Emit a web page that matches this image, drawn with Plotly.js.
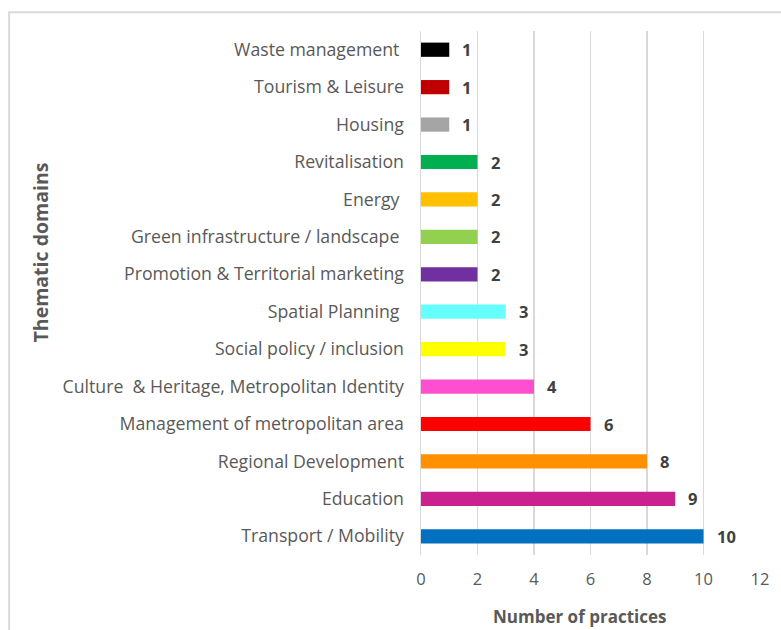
<!DOCTYPE html>
<html><head><meta charset="utf-8">
<script src="https://cdn.plot.ly/plotly-3.0.1.min.js"></script>
<style>body{margin:0;background:#fff}#chart{width:781px;height:630px}</style>
</head><body><div id="chart"></div>
<script>
const categories = ["Waste management ", "Tourism & Leisure", "Housing", "Revitalisation", "Energy ", "Green infrastructure / landscape ", "Promotion & Territorial marketing", "Spatial Planning ", "Social policy / inclusion", "Culture  & Heritage, Metropolitan Identity", "Management of metropolitan area", "Regional Development", "Education", "Transport / Mobility"];
const values = [1, 1, 1, 2, 2, 2, 2, 3, 3, 4, 6, 8, 9, 10];
const barColors = ["#000000", "#c00000", "#a5a5a5", "#00b050", "#ffc000", "#92d050", "#7030a0", "#66ffff", "#ffff00", "#ff4fd1", "#ff0000", "#ff9100", "#c9218e", "#0070c0"];
const xTicks = [0, 2, 4, 6, 8, 10, 12];

const FONT = "Open Sans, Noto Sans, sans-serif";
const FS = 16.5;
const trace = {
  type: "bar", orientation: "h",
  x: values, y: categories,
  marker: {color: barColors, line: {width: 0}},
  width: 0.38,
  hoverinfo: "none"
};
const labelAnn = values.map((v, i) => ({
  x: v, y: categories[i], xref: "x", yref: "y",
  text: "<b>" + v + "</b>", showarrow: false,
  xanchor: "left", xshift: 11,
  font: {family: FONT, size: FS, color: "#404040"}
}));
const layout = {
  width: 781, height: 630,
  margin: {l: 421, r: 21, t: 31, b: 75},
  paper_bgcolor: "#ffffff", plot_bgcolor: "#ffffff",
  showlegend: false,
  font: {family: FONT, size: FS, color: "#595959"},
  xaxis: {
    range: [0, 12], tickvals: xTicks, ticktext: xTicks.map(String),
    showgrid: true, gridcolor: "#d9d9d9", gridwidth: 1.5,
    zeroline: false, showline: false,
    ticks: "outside", ticklen: 9, tickcolor: "rgba(0,0,0,0)",
    tickfont: {family: FONT, size: FS, color: "#595959"},
    fixedrange: true
  },
  yaxis: {
    type: "category", categoryorder: "array", categoryarray: categories,
    range: [13.5, -0.5],
    showgrid: false, zeroline: false,
    showline: true, linecolor: "#d9d9d9", linewidth: 1.5,
    ticks: "outside", ticklen: 12, tickcolor: "rgba(0,0,0,0)",
    tickfont: {family: FONT, size: 17.7, color: "#595959"},
    fixedrange: true
  },
  annotations: labelAnn.concat([
    {xref: "paper", yref: "paper", x: 0.469, y: -0.118, yanchor: "middle", xanchor: "center",
     text: "<b>Number of practices</b>", showarrow: false,
     font: {family: FONT, size: 17, color: "#595959"}},
    {xref: "paper", yref: "paper", x: -1.123, y: 0.578, xanchor: "center", yanchor: "middle",
     text: "<b>Thematic domains</b>", showarrow: false, textangle: -90,
     font: {family: FONT, size: 19.5, color: "#595959"}}
  ]),
  shapes: [
    {type: "path", xref: "paper", yref: "paper",
     path: "M -1.215 -0.2 L -1.215 1.036 L 1.1 1.036",
     line: {color: "#d9d9d9", width: 2}}
  ]
};
Plotly.newPlot("chart", [trace], layout, {displayModeBar: false, staticPlot: true});
</script></body></html>
